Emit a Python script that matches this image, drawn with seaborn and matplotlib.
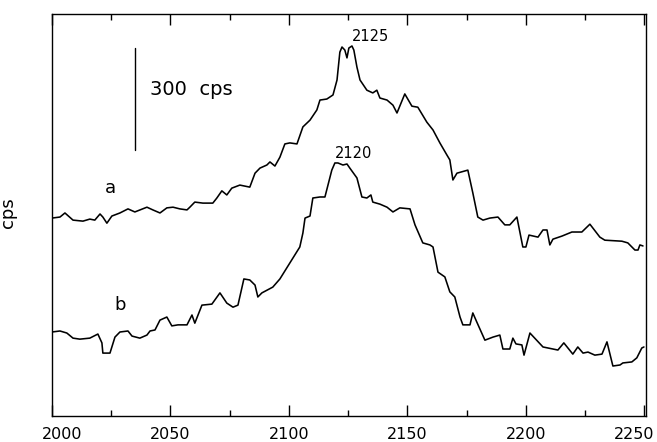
import matplotlib
matplotlib.use("Agg")
import matplotlib.pyplot as plt
from matplotlib.ticker import MultipleLocator
import matplotlib.transforms as mtransforms
import pandas as pd
import seaborn as sns

# ---- data (wavenumber, cps) ----
a_wn = [2000, 2003.4, 2005.5, 2008.9, 2013.1, 2016.0, 2018.1, 2020.3, 2021.5, 2023.2,
        2025.3, 2028.7, 2032.1, 2035.0, 2040.1, 2042.6, 2045.6, 2048.5, 2051.1, 2054.0,
        2057.0, 2058.2, 2060.3, 2063.7, 2067.9, 2069.6, 2071.7, 2073.8, 2075.9, 2079.3,
        2083.5, 2085.7, 2087.8, 2090.7, 2092.0, 2094.1, 2096.2, 2098.3, 2100.4, 2103.4,
        2105.9, 2108.9, 2111.8, 2113.1, 2116.0, 2118.6, 2120.3, 2121.5, 2122.4, 2123.6,
        2124.5, 2125.3, 2126.6, 2127.4, 2128.7, 2130.0, 2132.9, 2135.4, 2137.1, 2138.4,
        2141.4, 2143.9, 2145.6, 2148.9, 2151.9, 2154.4, 2158.2, 2160.8, 2163.7, 2166.7,
        2167.9, 2169.2, 2170.9, 2175.5, 2177.6, 2179.7, 2181.9, 2184.8, 2188.2, 2191.1,
        2193.2, 2196.2, 2198.7, 2200.0, 2201.3, 2205.1, 2207.2, 2208.9, 2210.1, 2211.4,
        2215.2, 2219.4, 2223.6, 2227.0, 2231.2, 2233.3, 2240.5, 2243.0, 2246.0, 2247.3,
        2248.1, 2249.4]
a_cps = [582, 585, 597, 576, 573, 579, 576, 594, 585, 567,
         588, 597, 609, 600, 614, 606, 597, 612, 614, 609,
         606, 614, 629, 626, 626, 641, 662, 650, 670, 679,
         673, 714, 729, 738, 747, 735, 761, 800, 803, 800,
         850, 870, 900, 929, 932, 944, 988, 1070, 1085, 1076,
         1053, 1082, 1088, 1076, 1026, 988, 958, 950, 958, 935,
         929, 914, 891, 947, 911, 908, 864, 841, 803, 767,
         753, 694, 714, 723, 656, 585, 576, 582, 585, 562,
         562, 585, 497, 497, 532, 526, 547, 547, 503, 520,
         529, 541, 541, 564, 526, 517, 514, 509, 488, 488,
         503, 500]

b_wn = [2000, 2003.4, 2006.3, 2008.9, 2011.8, 2016.0, 2019.4, 2021.1, 2021.5, 2024.5,
        2026.6, 2028.7, 2032.1, 2033.8, 2037.1, 2040.1, 2041.4, 2043.5, 2045.6, 2048.5,
        2050.6, 2053.2, 2057.0, 2059.1, 2060.3, 2063.3, 2067.5, 2070.9, 2073.8, 2076.4,
        2078.5, 2081.0, 2083.5, 2085.7, 2086.9, 2088.6, 2093.2, 2096.2, 2100.4, 2104.6,
        2105.9, 2106.8, 2108.9, 2110.1, 2113.1, 2115.2, 2118.1, 2119.4, 2120.7, 2122.8,
        2124.5, 2125.7, 2128.7, 2130.8, 2132.9, 2134.6, 2135.4, 2138.4, 2141.4, 2143.9,
        2146.8, 2151.1, 2153.2, 2156.5, 2159.5, 2160.8, 2162.9, 2165.8, 2167.9, 2170.0,
        2172.2, 2173.4, 2176.4, 2177.6, 2179.3, 2182.7, 2186.1, 2189.0, 2190.3, 2193.2,
        2194.5, 2195.8, 2198.3, 2199.2, 2201.7, 2207.2, 2211.4, 2213.5, 2216.0, 2219.8,
        2221.9, 2224.1, 2226.2, 2229.1, 2232.1, 2234.2, 2236.7, 2239.7, 2240.9, 2244.7,
        2246.8, 2248.9, 2249.8]
b_cps = [247, 250, 244, 229, 226, 229, 241, 215, 185, 185,
         232, 247, 250, 235, 229, 238, 250, 253, 282, 291,
         265, 268, 268, 297, 273, 326, 329, 362, 332, 320,
         326, 403, 400, 385, 350, 362, 379, 403, 450, 497,
         538, 582, 588, 641, 644, 644, 723, 744, 744, 738,
         741, 729, 700, 644, 641, 650, 629, 623, 614, 600,
         612, 609, 562, 509, 503, 497, 423, 409, 365, 350,
         291, 268, 268, 303, 276, 223, 232, 238, 197, 197,
         229, 212, 209, 179, 244, 203, 197, 194, 215, 182,
         203, 185, 188, 179, 182, 218, 147, 150, 156, 159,
         171, 200, 203]

curve_labels = ["a", "b"]
peak_labels = ["2125", "2120"]
scale_bar_cps = 300
x_ticks = [2000, 2050, 2100, 2150, 2200, 2250]

df = pd.concat([
    pd.DataFrame({"wavenumber": a_wn, "cps": a_cps, "curve": "a"}),
    pd.DataFrame({"wavenumber": b_wn, "cps": b_cps, "curve": "b"}),
], ignore_index=True)

sns.set_theme(style="white")
plt.rcParams["font.family"] = ["DejaVu Sans"]
plt.rcParams["text.color"] = "black"
plt.rcParams["axes.labelcolor"] = "black"
plt.rcParams["xtick.color"] = "black"

fig = plt.figure(figsize=(6.57, 4.42), dpi=100)
ax = fig.add_axes([0.079, 0.0588, 0.904, 0.9095])

sns.lineplot(data=df, x="wavenumber", y="cps", units="curve", estimator=None,
             sort=False, color="black", linewidth=1.15, ax=ax, legend=False)

ax.set_xlim(2000, 2250.6)
ax.set_ylim(0, 1182)
ax.set_xticks(x_ticks)
ax.set_xticklabels([str(t) for t in x_ticks])
ax.xaxis.set_minor_locator(MultipleLocator(25))
ax.set_yticks([])
ax.tick_params(axis="x", which="major", direction="in", length=8, width=1,
               top=True, bottom=True, labelsize=11.5, pad=8, colors="black")
ax.tick_params(axis="x", which="minor", direction="in", length=4, width=1,
               top=True, bottom=True, colors="black")
for s in ax.spines.values():
    s.set_color("black")
    s.set_linewidth(1.0)

# end labels sit slightly inward, as in the reference
labels = ax.get_xticklabels()
labels[0].set_transform(labels[0].get_transform() +
                        mtransforms.ScaledTranslation(10 / 100, 0, fig.dpi_scale_trans))
labels[-1].set_transform(labels[-1].get_transform() +
                         mtransforms.ScaledTranslation(-10 / 100, 0, fig.dpi_scale_trans))

ax.set_xlabel("")
ax.set_ylabel("cps", fontsize=13, color="black")
ax.yaxis.set_label_coords(-0.059, 0.507)

# scale bar
ax.plot([2035.0, 2035.0], [1082, 1082 - scale_bar_cps], color="black", linewidth=1.0)
ax.text(2041.4, 961, f"{scale_bar_cps}  cps", fontsize=14, ha="left", va="center",
        color="black")

# curve labels
ax.text(2024.5, 670, curve_labels[0], fontsize=13, ha="center", va="center", color="black")
ax.text(2028.7, 326, curve_labels[1], fontsize=13, ha="center", va="center", color="black")

# peak labels
ax.text(2134.6, 1117, peak_labels[0], fontsize=10.5, ha="center", va="center", color="black")
ax.text(2127.4, 773, peak_labels[1], fontsize=10.5, ha="center", va="center", color="black")

fig.savefig("out.png", dpi=100)
